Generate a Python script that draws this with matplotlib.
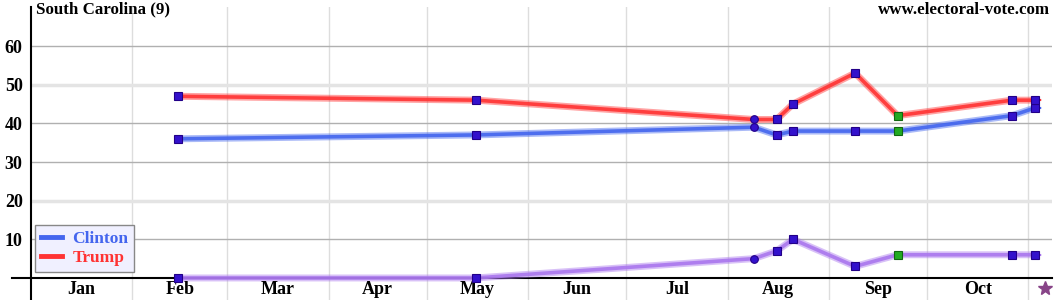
import numpy as np
import matplotlib
matplotlib.use('Agg')
import matplotlib.pyplot as plt

plt.rcParams['font.family'] = ['Liberation Serif', 'DejaVu Serif']
plt.rcParams['font.weight'] = 'bold'

# day of year (Jan 1 = 0, 2016)
days = [45, 136, 221, 228, 233, 252, 265, 300, 307]
clinton = [36, 37, 39, 37, 38, 38, 38, 42, 44]
trump = [47, 46, 41, 41, 45, 53, 42, 46, 46]
other = [0, 0, 5, 7, 10, 3, 6, 6, 6]
marker_kind = ['s', 's', 'o', 's', 's', 's', 'g', 's', 's']

months = ['Jan', 'Feb', 'Mar', 'Apr', 'May', 'Jun', 'Jul', 'Aug', 'Sep', 'Oct']
month_starts = [0, 31, 60, 91, 121, 152, 182, 213, 244, 274, 305]
election_day = 310

fig = plt.figure(figsize=(10.6, 3.0), dpi=100)
ax = fig.add_axes([31 / 1060, 0, (1052 - 31) / 1060, 293 / 300])
ax.set_xlim(0, 312.2)
ax.set_ylim(-5.7, 70.1)

# grid
for d in month_starts[1:]:
    ax.axvline(d, color='#dddddd', lw=1, zorder=0)
for v in [10, 30, 40, 60]:
    ax.axhline(v, color='#b0b0b0', lw=1, zorder=0)
for v in [20, 50]:
    ax.axhline(v, color='#e4e4e4', lw=2.5, zorder=0)
ax.axhline(0, xmin=-0.019, xmax=1.0, color='black', lw=1.5, clip_on=False, zorder=1)

series = [(other, '#aa77ee'), (clinton, '#4466ee'), (trump, '#ff3333')]
for vals, col in series:
    ax.plot(days, vals, color=col, lw=5, alpha=0.45, solid_capstyle='round', zorder=2)
    ax.plot(days, vals, color=col, lw=2.6, alpha=0.9, solid_capstyle='round', zorder=3)
    ax.plot([days[-1], election_day], [vals[-1], vals[-1]], color=col, lw=1.5,
            ls=(0, (3, 2)), zorder=3)
    for d, v, k in zip(days, vals, marker_kind):
        if k == 'g':
            ax.plot(d, v, marker='s', ms=5.5, mfc='#22aa22', mec='#116611', mew=0.8, zorder=4)
        else:
            ax.plot(d, v, marker=k, ms=5.5, mfc='#3311cc', mec='#220088', mew=0.8, zorder=4)

# axes styling
for s in ['top', 'right', 'bottom']:
    ax.spines[s].set_visible(False)
ax.spines['left'].set_color('black')
ax.spines['left'].set_linewidth(1.5)
ax.set_xticks([])
ax.set_yticks([10, 20, 30, 40, 50, 60])
ax.set_yticklabels(['10', '20', '30', '40', '50', '60'], fontsize=13, fontweight='bold')
ax.tick_params(axis='y', length=0, pad=6)

for i, m in enumerate(months):
    mid = (month_starts[i] + month_starts[i + 1]) / 2
    ax.text(mid, -3.1, m, ha='center', va='center', fontsize=13, fontweight='bold')

ax.plot(election_day, -2.6, marker='*', ms=10, color='#884488', clip_on=False, zorder=5)

ax.text(1.5, 69.4, 'South Carolina (9)', ha='left', va='center', fontsize=12.2, fontweight='bold')
ax.text(311.5, 69.4, 'www.electoral-vote.com', ha='right', va='center', fontsize=12.2,
        fontweight='bold')

# legend
h1, = ax.plot([], [], color='#4466ee', lw=3.5)
h2, = ax.plot([], [], color='#ff3333', lw=3.5)
leg = ax.legend([h1, h2], ['Clinton', 'Trump'], loc='lower left', bbox_to_anchor=(0.004, 0.095),
                borderaxespad=0, frameon=True, fancybox=False, handlelength=1.2,
                handletextpad=0.6, borderpad=0.35, labelspacing=0.15,
                prop={'size': 12.5, 'weight': 'bold'})
leg.get_frame().set_facecolor('#f0f0ff')
leg.get_frame().set_edgecolor('#888888')
leg.get_frame().set_alpha(1)
leg.get_texts()[0].set_color('#4466ee')
leg.get_texts()[1].set_color('#ff3333')

fig.savefig('out.png', dpi=100)
